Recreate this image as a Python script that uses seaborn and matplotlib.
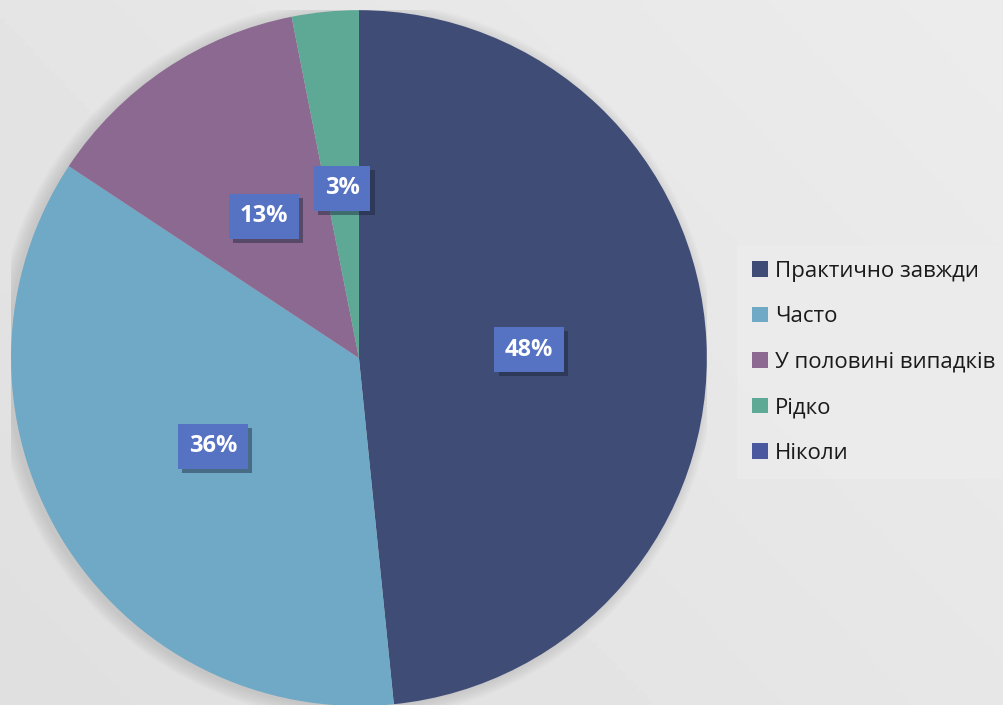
import matplotlib
matplotlib.use("Agg")
import matplotlib.pyplot as plt
import matplotlib.patheffects as pe
from matplotlib.patches import Patch, Circle
import numpy as np
import seaborn as sns

categories = ["Практично завжди", "Часто", "У половині випадків", "Рідко", "Ніколи"]
shares = [48.4, 35.9, 12.6, 3.1, 0]
colors = ["#3f4c75", "#6fa9c5", "#8b6991", "#5ea996", "#4a58a0"]

sns.set_style("white")
plt.rcParams["font.family"] = ["Open Sans", "DejaVu Sans"]

fig = plt.figure(figsize=(10.04, 7.05), dpi=100, facecolor="#e5e5e5")

# soft background gradient
bg = fig.add_axes([0, 0, 1, 1], zorder=-10)
xx, yy = np.meshgrid(np.linspace(0, 1, 200), np.linspace(0, 1, 200))
grad = 0.875 + 0.05 * (0.6 * xx + 0.4 * yy)
bg.imshow(grad, cmap="gray", vmin=0, vmax=1, origin="lower", aspect="auto", extent=[0, 1, 0, 1])
bg.axis("off")

ax = fig.add_axes([0.011, -0.0014, 0.693, 0.987])
ax.set_facecolor("none")

# faint blurred shadow around the pie
for r in np.linspace(1.035, 1.0, 8):
    ax.add_patch(Circle((-0.012, -0.006), r, facecolor="#808080", edgecolor="none", alpha=0.035))

wedges, texts, autotexts = ax.pie(
    shares, colors=colors, startangle=90, counterclock=False,
    autopct=lambda p: f"{p:.0f}%" if p > 0.5 else "", pctdistance=0.49,
    wedgeprops=dict(linewidth=0),
    textprops=dict(color="white", fontsize=17, fontweight="bold"),
)
for t in autotexts:
    if t.get_text():
        t.set_bbox(dict(boxstyle="square,pad=0.45", facecolor="#5672c2", edgecolor="none"))
        t.get_bbox_patch().set_path_effects([pe.SimplePatchShadow(offset=(3, -3), alpha=0.45), pe.Normal()])
ax.set_xlim(-1, 1)
ax.set_ylim(-1, 1)
ax.set_aspect("equal")
ax.axis("off")

handles = [Patch(facecolor=c, edgecolor="none") for c in colors]
leg = fig.legend(
    handles, categories, loc="upper left", bbox_to_anchor=(0.734, 0.652),
    fontsize=16, frameon=True, fancybox=False, handlelength=0.7, handleheight=0.7,
    handletextpad=0.3, labelspacing=1.1, borderpad=0.7, borderaxespad=0,
)
leg.get_frame().set_facecolor("#ececec")
leg.get_frame().set_edgecolor("none")
for txt in leg.get_texts():
    txt.set_color("#1a1a1a")

fig.savefig("out.png", dpi=100, facecolor=fig.get_facecolor())
